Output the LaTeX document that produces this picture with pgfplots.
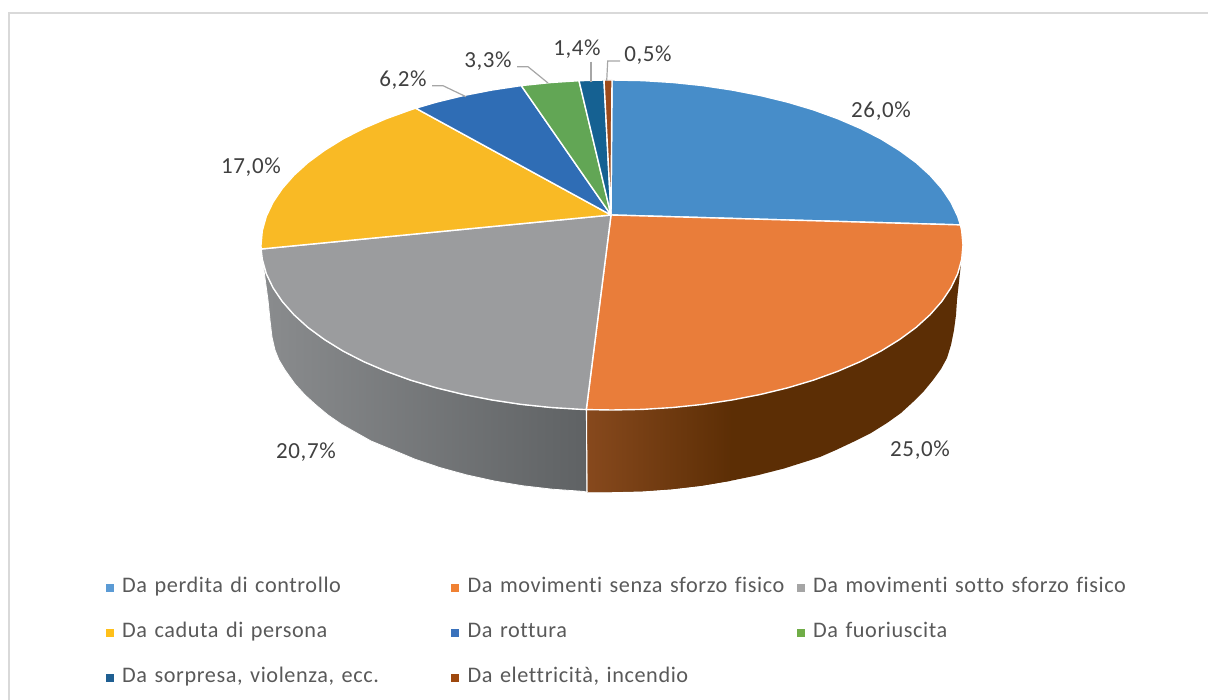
\documentclass[border=0pt]{standalone}
\usepackage{pgfplots}
\pgfplotsset{compat=1.18}
\usepackage{fontspec}
\setmainfont[LetterSpace=2.7,Ligatures=NoCommon]{Carlito}
\newfontfamily\labfont[LetterSpace=2.6,Ligatures=NoCommon]{Carlito}
\definecolor{sA}{HTML}{478DC9}
\definecolor{sB}{HTML}{E97D3A}
\definecolor{sC}{HTML}{9B9C9E}
\definecolor{sD}{HTML}{F9BA25}
\definecolor{sE}{HTML}{2F6DB5}
\definecolor{sF}{HTML}{62A655}
\definecolor{sG}{HTML}{156192}
\definecolor{sH}{HTML}{9C4A1A}
\definecolor{lA}{HTML}{5B9BD5}
\definecolor{lB}{HTML}{F08133}
\definecolor{lC}{HTML}{A5A5A5}
\definecolor{lD}{HTML}{FFC01A}
\definecolor{lE}{HTML}{3A72BC}
\definecolor{lF}{HTML}{70AD47}
\definecolor{lG}{HTML}{1F5F92}
\definecolor{lH}{HTML}{9E480E}
\definecolor{txt}{HTML}{595959}
\definecolor{lab}{HTML}{404040}
\definecolor{frame}{HTML}{D9D9D9}
\definecolor{lead}{HTML}{A6A6A6}
\definecolor{wallR}{HTML}{5C2E05}
\definecolor{wallL}{HTML}{87491D}
\definecolor{greyL}{HTML}{8A8C8E}
\definecolor{greyR}{HTML}{5F6264}
\tikzset{lbl/.style={text=lab, inner sep=0pt, font=\labfont\fontsize{23}{27}\selectfont}}
\begin{document}
\begin{tikzpicture}
\begin{axis}[
  width=1208pt, height=700pt, scale only axis,
  xmin=0, xmax=1208, ymin=0, ymax=700, y dir=reverse,
  hide axis, clip=true,
  legend columns=3,
  legend image code/.code={\fill[#1,draw=none] (0pt,-4pt) rectangle (8pt,4pt); \path[draw=none,fill=none] (8pt,0pt) -- (16.5pt,0pt);},
  legend style={at={(axis cs:105.7,578)}, anchor=north west, draw=none, fill=none,
    inner sep=0pt, outer sep=0pt, row sep=26pt, column sep=0pt,
    nodes={inner sep=0pt, text=txt, text width=329pt, align=left, text height=14pt, text depth=5pt},
    font=\fontsize{22.25}{26}\selectfont},
  legend cell align=left,
]
% frame
\addplot[forget plot, frame, line width=2pt] coordinates {(8.5,700)(8.5,13.5)(1208,13.5)};
% side walls
\addplot[forget plot, draw=none, fill=wallR] coordinates {
(586.3,409.6)(612,410)(642.6,409.4)(673,407.5)(702.8,404.4)(732,400)(760.3,394.5)(787.5,387.9)(813.3,380.2)(837.6,371.4)(860.2,361.7)(880.9,351.1)(899.5,339.6)(916,327.5)(930.1,314.7)(941.8,301.4)(951,287.7)(957.7,273.7)(961.7,259.4)(963,245)
(957,300)(956,315)(954,330)(951,345)(947,358)(941,369)(933,380)(924,391)(913,402)(901,413)(887,423)(871,433)(853,442)(836,450)(820,457)(809.3,460.5)(784,468.5)(757.4,475.3)(729.7,481)(701,485.8)(671.7,489.2)(642,491.3)(612,492)(587,492)
} -- cycle;
\addplot[forget plot, draw=none, left color=wallL, right color=wallR] coordinates {
(586.3,409.6)(612,410)(642.6,409.4)(673,407.5)(702.8,404.4)(732,400)
(729.7,481)(701,485.8)(671.7,489.2)(642,491.3)(612,492)(587,492)
} -- cycle;
\addplot[forget plot, draw=white, line width=0.8pt, left color=greyL, right color=greyR] coordinates {
(261.1,249)(262.3,259.4)(266.3,273.7)(273,287.7)(282.2,301.4)(293.9,314.7)(308,327.5)(324.5,339.6)(343.1,351.1)(363.8,361.7)(386.4,371.4)(410.7,380.2)(436.5,387.9)(463.7,394.5)(492,400)(521.2,404.4)(551,407.5)(581.4,409.4)(586.3,409.6)
(587,492)(582,491.3)(552.3,489.2)(523,485.8)(494.3,481)(466.6,474.9)(440,467.6)(414.7,459.1)(405,455)(388,448)(371,441)(355,432)(341,424)(328,415)(316,405)(305,395)(295,384)(285,370)(279,360)(275,350)(272,337)(270,320)(268,300)
} -- cycle;
\addplot[forget plot, white, line width=1pt] coordinates {(586.5,410)(587,492)};
% top face
\addplot[forget plot, draw=white, line width=1.4pt, line join=round, fill=sA] coordinates {
(611,215)(612,80)(642.6,80.6)(673,82.5)(702.8,85.6)(732,90)(760.3,95.5)(787.5,102.1)(813.3,109.8)(837.6,118.6)(860.2,128.3)(880.9,138.9)(899.5,150.4)(916,162.5)(930.1,175.3)(941.8,188.6)(951,202.3)(957.7,216.3)(960.4,224.9)
} -- cycle;
\addplot[forget plot, draw=white, line width=1.4pt, line join=round, fill=sB] coordinates {
(611,215)(960.4,224.9)(961.7,230.6)(963,245)(961.7,259.4)(957.7,273.7)(951,287.7)(941.8,301.4)(930.1,314.7)(916,327.5)(899.5,339.6)(880.9,351.1)(860.2,361.7)(837.6,371.4)(813.3,380.2)(787.5,387.9)(760.3,394.5)(732,400)(702.8,404.4)(673,407.5)(642.6,409.4)(612,410)(586.3,409.6)
} -- cycle;
\addplot[forget plot, draw=white, line width=1.4pt, line join=round, fill=sC] coordinates {
(611,215)(586.3,409.6)(581.4,409.4)(551,407.5)(521.2,404.4)(492,400)(463.7,394.5)(436.5,387.9)(410.7,380.2)(386.4,371.4)(363.8,361.7)(343.1,351.1)(324.5,339.6)(308,327.5)(293.9,314.7)(282.2,301.4)(273,287.7)(266.3,273.7)(262.3,259.4)(261.1,249)
} -- cycle;
\addplot[forget plot, draw=white, line width=1.4pt, line join=round, fill=sD] coordinates {
(611,215)(261.1,249)(261,245)(262.3,230.6)(266.3,216.3)(273,202.3)(282.2,188.6)(293.9,175.3)(308,162.5)(324.5,150.4)(343.1,138.9)(363.8,128.3)(386.4,118.6)(410.7,109.8)(415.7,108.2)
} -- cycle;
\addplot[forget plot, draw=white, line width=1.4pt, line join=round, fill=sE] coordinates {
(611,215)(415.7,108.2)(436.5,102.1)(463.7,95.5)(492,90)(521.2,85.6)
} -- cycle;
\addplot[forget plot, draw=white, line width=1.4pt, line join=round, fill=sF] coordinates {
(611,215)(521.2,85.6)(551,82.5)(579,80.7)
} -- cycle;
\addplot[forget plot, draw=white, line width=1.4pt, line join=round, fill=sG] coordinates {
(611,215)(579,80.7)(604,80)
} -- cycle;
\addplot[forget plot, draw=white, line width=1.4pt, line join=round, fill=sH] coordinates {
(611,215)(604,80)(612,80)
} -- cycle;
% leader lines
\addplot[forget plot, lead, line width=1.2pt] coordinates {(432,85.7)(443,85.7)(466,96.7)};
\addplot[forget plot, lead, line width=1.2pt] coordinates {(517,66.7)(528,66.7)(548,83)};
\addplot[forget plot, lead, line width=1.2pt] coordinates {(591,61.7)(591,81.7)};
\addplot[forget plot, lead, line width=1.2pt] coordinates {(620,61)(607.7,61)(606.7,81)};
% labels
\node[lbl] at (axis cs:881,111) {26,0\%};
\node[lbl] at (axis cs:920,450) {25,0\%};
\node[lbl] at (axis cs:306,452) {20,7\%};
\node[lbl] at (axis cs:251,167) {17,0\%};
\node[lbl] at (axis cs:403,80) {6,2\%};
\node[lbl] at (axis cs:488,61) {3,3\%};
\node[lbl] at (axis cs:577,49) {1,4\%};
\node[lbl] at (axis cs:648,55) {0,5\%};
% legend
\addlegendimage{fill=lA}\addlegendentry{Da perdita di controllo}
\addlegendimage{fill=lB}\addlegendentry{Da movimenti senza sforzo fisico}
\addlegendimage{fill=lC}\addlegendentry{Da movimenti sotto sforzo fisico}
\addlegendimage{fill=lD}\addlegendentry{Da caduta di persona}
\addlegendimage{fill=lE}\addlegendentry{Da rottura}
\addlegendimage{fill=lF}\addlegendentry{Da fuoriuscita}
\addlegendimage{fill=lG}\addlegendentry{Da sorpresa, violenza, ecc.}
\addlegendimage{fill=lH}\addlegendentry{Da elettricità, incendio}
\end{axis}
\path (0,0) rectangle (1208pt,700pt);
\end{tikzpicture}
\end{document}
